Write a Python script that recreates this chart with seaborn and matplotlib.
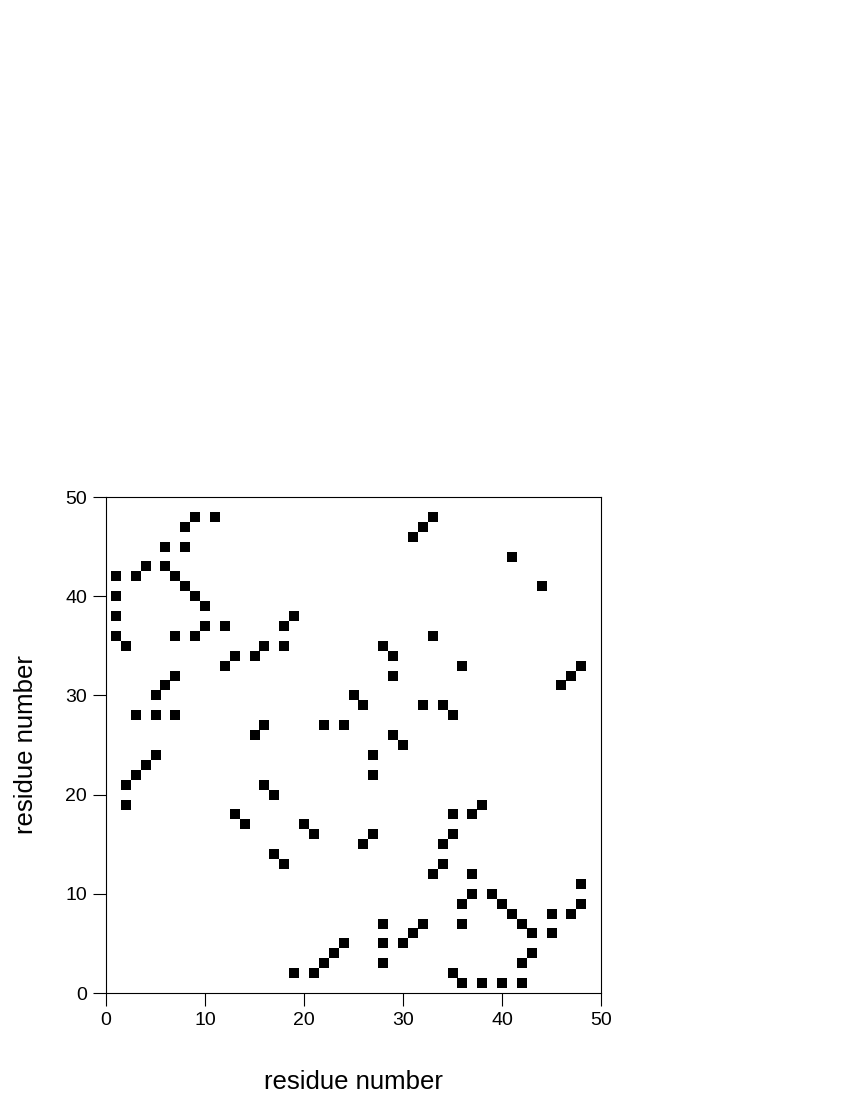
import numpy as np
import pandas as pd
import matplotlib
matplotlib.use("Agg")
import matplotlib.pyplot as plt
import seaborn as sns

# contact map: residue i vs residue j
res_i = [1, 1, 1, 1, 2, 3, 4, 6, 8, 8, 9, 11,
         6, 7, 8, 9, 10, 10, 9, 7, 12, 12, 13, 15, 16, 18, 18, 19,
         3, 5, 7, 5, 6, 7, 15, 16,
         2, 3, 4, 5, 2,
         13, 14, 16, 17, 17, 18, 20, 21,
         22, 24, 25, 26, 27, 27, 26, 27,
         19, 21, 22, 23, 24,
         31, 32, 33, 41, 44,
         33, 28, 29, 29, 36, 46, 47, 48,
         32, 34, 35, 29, 30,
         28, 28, 28, 30, 31, 32,
         33, 34, 34, 35, 35, 37, 38,
         36, 37, 36, 37,
         39, 40, 41, 42, 43, 45, 45, 47, 48, 48,
         42, 43, 35, 36, 38, 40, 42]
res_j = [42, 40, 38, 36, 35, 42, 43, 45, 45, 47, 48, 48,
         43, 42, 41, 40, 39, 37, 36, 36, 37, 33, 34, 34, 35, 35, 37, 38,
         28, 28, 28, 30, 31, 32, 26, 27,
         21, 22, 23, 24, 19,
         18, 17, 21, 20, 14, 13, 17, 16,
         27, 27, 30, 29, 24, 22, 15, 16,
         2, 2, 3, 4, 5,
         46, 47, 48, 44, 41,
         36, 35, 34, 32, 33, 31, 32, 33,
         29, 29, 28, 26, 25,
         7, 5, 3, 5, 6, 7,
         12, 13, 15, 16, 18, 18, 19,
         9, 10, 7, 12,
         10, 9, 8, 7, 6, 6, 8, 8, 9, 11,
         3, 4, 2, 1, 1, 1, 1]

df = pd.DataFrame({"i": res_i, "j": res_j})

sns.set_style("ticks")
plt.rcParams['font.family'] = ['Liberation Sans', 'DejaVu Sans']

fig = plt.figure(figsize=(8.5, 11), dpi=100)
ax = fig.add_axes([106/850, 1-993/1100, 495/850, 496/1100])

sns.scatterplot(data=df, x="i", y="j", ax=ax, marker="s", s=60,
                color="black", linewidth=0, legend=False)

ax.set_xlim(0, 50)
ax.set_ylim(0, 50)
ax.set_xticks([0, 10, 20, 30, 40, 50])
ax.set_yticks([0, 10, 20, 30, 40, 50])
ax.tick_params(direction="out", length=9.5, width=0.8, pad=4,
               labelsize=14, colors="black")
for sp in ax.spines.values():
    sp.set_visible(True)
    sp.set_linewidth(0.8)
    sp.set_color("black")
ax.set_xlabel("residue number", fontsize=18.5, labelpad=30, color="black")
ax.set_ylabel("residue number", fontsize=18.5, labelpad=20, color="black")

fig.savefig("out.png", dpi=100)
